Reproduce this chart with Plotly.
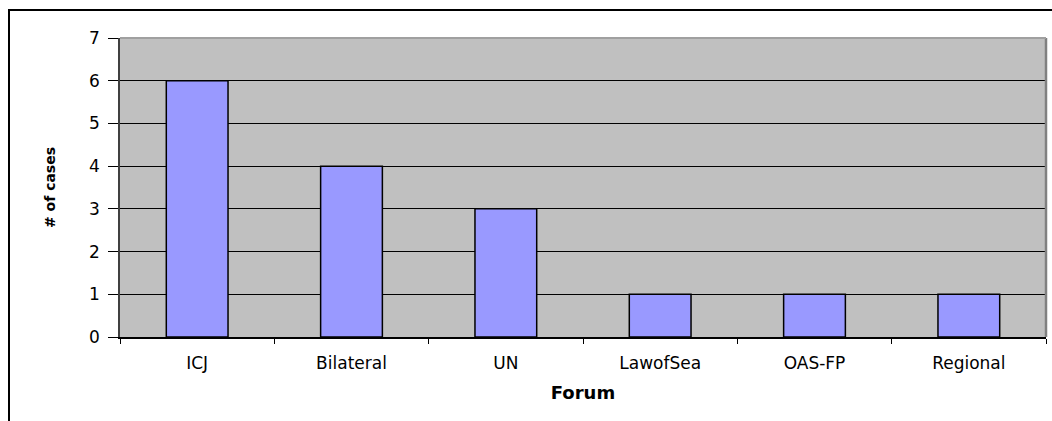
import plotly.graph_objects as go

categories = ["ICJ", "Bilateral", "UN", "LawofSea", "OAS-FP", "Regional"]
cases = [6, 4, 3, 1, 1, 1]
y_ticks = [0, 1, 2, 3, 4, 5, 6, 7]

W, H = 1052, 421
L, R, T, B = 120, 6, 38, 84
pw, ph = W - L - R, H - T - B

fig = go.Figure(
    go.Bar(
        x=categories,
        y=cases,
        marker=dict(color="#9999FF", line=dict(color="black", width=1.5)),
    )
)

tick_font = dict(family="DejaVu Sans", size=17, color="black")

fig.update_layout(
    width=W,
    height=H,
    margin=dict(l=L, r=R, t=T, b=B),
    paper_bgcolor="white",
    plot_bgcolor="#C0C0C0",
    bargap=0.6,
    showlegend=False,
    xaxis=dict(
        type="category",
        tickson="boundaries",
        ticks="outside",
        ticklen=5,
        tickcolor="black",
        showline=True,
        linecolor="black",
        linewidth=1.5,
        showgrid=False,
        tickfont=tick_font,
        ticklabelstandoff=10,
        title=dict(
            text="Forum",
            font=dict(family="DejaVu Sans", size=18, color="black", weight="bold"),
            standoff=14,
        ),
    ),
    yaxis=dict(
        range=[0, 7],
        tickvals=y_ticks,
        ticks="outside",
        ticklen=10,
        tickcolor="black",
        showline=True,
        linecolor="#404040",
        linewidth=1.5,
        showgrid=True,
        gridcolor="black",
        gridwidth=1,
        zeroline=False,
        tickfont=tick_font,
        ticklabelstandoff=5,
        title=dict(
            text="# of cases",
            font=dict(family="DejaVu Sans", size=14, color="black", weight="bold"),
            standoff=30,
        ),
    ),
    shapes=[
        # right and top edges of plot area (gray)
        dict(type="line", xref="paper", yref="paper", x0=1, x1=1, y0=0, y1=1,
             line=dict(color="#808080", width=2.5), layer="above"),
        dict(type="line", xref="paper", yref="paper", x0=0, x1=1, y0=1, y1=1,
             line=dict(color="#A0A0A0", width=2), layer="above"),
        # outer chart frame
        dict(type="rect", xref="paper", yref="paper",
             x0=(9 - L) / pw, x1=1.2, y0=-0.6, y1=(H - B - 10) / ph,
             line=dict(color="black", width=2), fillcolor="rgba(0,0,0,0)", layer="above"),
    ],
)

fig.write_html("out.html", config={"displayModeBar": False},
               post_script="document.body.style.margin='0';")
